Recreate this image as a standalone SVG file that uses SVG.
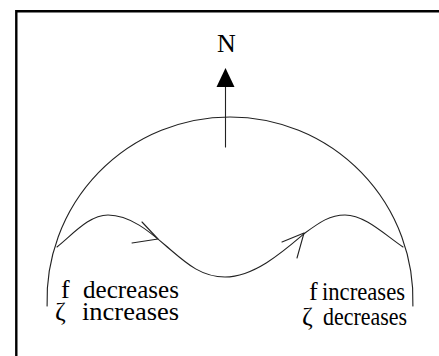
<svg xmlns="http://www.w3.org/2000/svg" width="439" height="356" viewBox="0 0 439 356">
  <style>
    .ln { fill: none; stroke: #222; stroke-width: 1.1; stroke-linecap: round; stroke-linejoin: round; }
    text { font-family: "Liberation Serif", "DejaVu Serif", serif; font-size: 26px; fill: #000; }
  </style>
  <rect width="439" height="356" fill="#fff"/>
  <g id="frame">
    <path d="M16.3,356 V11.2 H439" fill="none" stroke="#000" stroke-width="2.4"/>
  </g>
  <g id="dome">
    <path class="ln" d="M47.1,306 A183,183 0 1 1 412.9,306"/>
  </g>
  <g id="north">
    <text x="226.5" y="52" text-anchor="middle">N</text>
  </g>
  <g id="connectors">
    <g id="north-arrow">
      <line class="ln" x1="225.5" y1="147" x2="225.5" y2="86" stroke="#000"/>
      <polygon points="225.5,68 234.5,87 216.5,87" fill="#000"/>
    </g>
    <g id="path-wave">
      <path class="ln" d="M57,247 C75,232 90,215 108,215 C130,215 150,232 165,245 C185,262 200,277 225,277 C255,277 285,250 305,233 C320,222 330,215 345,215 C365,215 385,235 403,247"/>
      <path class="ln" d="M142,222 L158,239 L132,243"/>
      <path class="ln" d="M282,242 L304,233 L297,258"/>
    </g>
  </g>
  <g id="label-left">
    <text x="61" y="298">f</text>
    <text x="83" y="298" textLength="96" lengthAdjust="spacingAndGlyphs">decreases</text>
    <text x="55" y="320">ζ</text>
    <text x="82" y="320" textLength="97" lengthAdjust="spacingAndGlyphs">increases</text>
  </g>
  <g id="label-right">
    <text x="309" y="300">f</text>
    <text x="322" y="300" textLength="83" lengthAdjust="spacingAndGlyphs">increases</text>
    <text x="302" y="325">ζ</text>
    <text x="323" y="325" textLength="84" lengthAdjust="spacingAndGlyphs">decreases</text>
  </g>
</svg>
